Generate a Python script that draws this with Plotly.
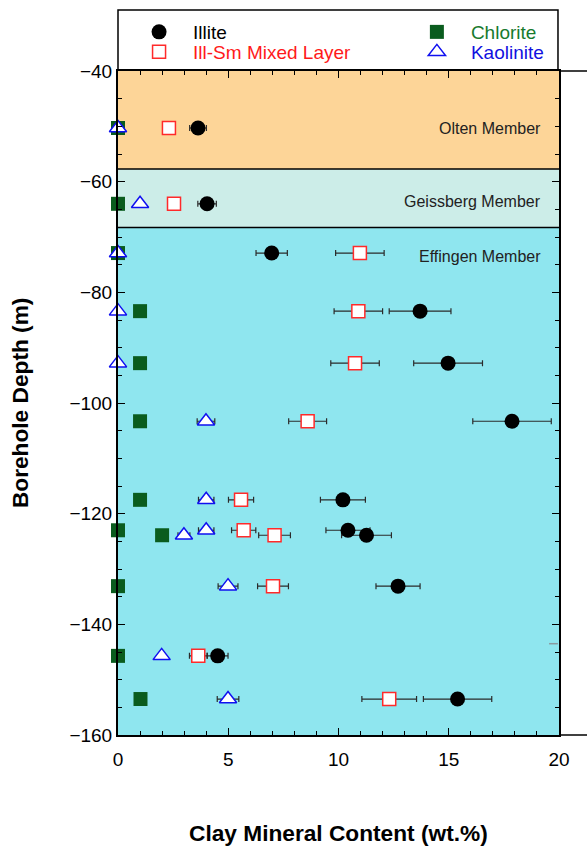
import plotly.graph_objects as go

# Sample depths (m, negative downwards) and clay mineral contents (wt.%)
depth_m = [-50.3, -64.0, -72.9, -83.4, -92.8, -103.3, -117.5, -123.0, -123.9, -133.1, -145.7, -153.5]

illite = [3.63, 4.04, 6.97, 13.7, 14.97, 17.87, 10.2, 10.43, 11.27, 12.7, 4.52, 15.4]
illite_err = [0.38, 0.42, 0.71, 1.4, 1.56, 1.78, 1.02, 1.0, 1.13, 1.0, 0.47, 1.55]

illsm = [2.31, 2.54, 10.97, 10.9, 10.75, 8.6, 5.58, 5.7, 7.1, 7.03, 3.64, 12.3]
illsm_err = [0.0, 0.0, 1.1, 1.1, 1.1, 0.86, 0.57, 0.55, 0.72, 0.7, 0.4, 1.24]

chlorite = [0.0, 0.0, 0.0, 1.0, 1.0, 1.0, 1.0, 0.0, 2.0, 0.0, 0.0, 1.02]

kaolinite = [0.0, 1.0, 0.0, 0.0, 0.0, 3.99, 4.0, 4.0, 2.99, 4.99, 1.98, 4.99]
kaolinite_err = [0.0, 0.0, 0.0, 0.0, 0.0, 0.4, 0.35, 0.35, 0.27, 0.45, 0.0, 0.49]

# Lithostratigraphic members
members = ["Olten Member", "Geissberg Member", "Effingen Member"]
member_top = [-40.0, -57.7, -68.3]
member_base = [-57.7, -68.3, -160.0]
member_fill = ["#fdd598", "#ccede8", "#8fe6ef"]
member_label_depth = [-50.4, -63.6, -73.6]

x_ticks = [0, 5, 10, 15, 20]
y_ticks = [-40, -60, -80, -100, -120, -140, -160]

FONT = "Arial, Liberation Sans, sans-serif"
GREEN = "#0a5c1e"
ERR = dict(type="data", thickness=1.2, width=3, color="#2b2b2b")

fig = go.Figure()

fig.add_trace(go.Scatter(
    x=chlorite, y=depth_m, mode="markers", name="<span style='color:#187a2e'>Chlorite</span>",
    legend="legend3",
    marker=dict(symbol="square", size=14, color=GREEN, line=dict(width=0)),
    cliponaxis=False,
))
fig.add_trace(go.Scatter(
    x=kaolinite, y=depth_m, mode="markers", name="<span style='color:#1010e0'>Kaolinite</span>",
    legend="legend4",
    error_x=dict(array=kaolinite_err, **ERR),
    marker=dict(symbol="triangle-up", size=15, color="white", line=dict(width=1.5, color="#1010f0")),
    cliponaxis=False,
))
fig.add_trace(go.Scatter(
    x=illsm, y=depth_m, mode="markers", name="<span style='color:#ff1a1a'>Ill-Sm Mixed Layer</span>",
    legend="legend2",
    error_x=dict(array=illsm_err, **ERR),
    marker=dict(symbol="square", size=13, color="white", line=dict(width=1.5, color="#ff2a2a")),
    cliponaxis=False,
))
fig.add_trace(go.Scatter(
    x=illite, y=depth_m, mode="markers", name="Illite",
    legend="legend",
    error_x=dict(array=illite_err, **ERR),
    marker=dict(symbol="circle", size=15, color="black", line=dict(width=0)),
    cliponaxis=False,
))

# Member shading and boundaries
shapes = []
for top, base, fill in zip(member_top, member_base, member_fill):
    shapes.append(dict(type="rect", xref="x", yref="y", x0=0, x1=20, y0=base, y1=top,
                       fillcolor=fill, line=dict(width=0), layer="below"))
for b in member_base[:-1]:
    shapes.append(dict(type="line", xref="x", yref="y", x0=0, x1=20, y0=b, y1=b,
                       line=dict(color="black", width=1.5), layer="below"))

# Legend frame above the plot and the frame lines running to the page edge
shapes.append(dict(type="rect", xref="paper", yref="paper", x0=0, x1=0.9977, y0=1.0, y1=1.0919,
                   line=dict(color="black", width=1.5), fillcolor="white", layer="below"))
shapes.append(dict(type="line", xref="paper", yref="paper", x0=1, x1=1.07, y0=1, y1=1,
                   line=dict(color="black", width=1.5)))
shapes.append(dict(type="line", xref="paper", yref="paper", x0=1, x1=1.07, y0=0, y1=0,
                   line=dict(color="black", width=1.5)))
shapes.append(dict(type="line", xref="x", yref="y", x0=19.55, x1=19.95, y0=-143.5, y1=-143.5,
                   line=dict(color="#8a9aa0", width=1.5)))

annotations = []
for name, d in zip(members, member_label_depth):
    annotations.append(dict(x=19.28, y=d, xref="x", yref="y", text=name, showarrow=False,
                            xanchor="right", yanchor="middle",
                            font=dict(family=FONT, size=16, color="#222222")))
annotations.append(dict(x=0.5, y=-0.1476, xref="paper", yref="paper",
                        text="<b>Clay Mineral Content (wt.%)</b>", showarrow=False,
                        xanchor="center", yanchor="middle",
                        font=dict(family=FONT, size=22.7, color="black")))
annotations.append(dict(x=-0.222, y=0.5, xref="paper", yref="paper",
                        text="<b>Borehole Depth (m)</b>", showarrow=False, textangle=-90,
                        xanchor="center", yanchor="middle",
                        font=dict(family=FONT, size=22.7, color="black")))

def legend_box(x, y):
    return dict(x=x, y=y, orientation="v", bgcolor="rgba(0,0,0,0)", borderwidth=0,
                font=dict(family=FONT, size=19, color="black"), itemwidth=58,
                xanchor="left", yanchor="middle", tracegroupgap=0, itemsizing="trace")

fig.update_layout(
    width=587, height=848,
    margin=dict(l=118, r=28, t=71, b=113),
    paper_bgcolor="white", plot_bgcolor="white",
    font=dict(family=FONT, size=19, color="black"),
    showlegend=True,
    legend=legend_box(0.016, 1.0587),
    legend2=legend_box(0.016, 1.0286),
    legend3=legend_box(0.646, 1.0587),
    legend4=legend_box(0.646, 1.0286),
    shapes=shapes,
    annotations=annotations,
    xaxis=dict(range=[0, 20], tickvals=x_ticks, ticks="inside", ticklen=7, tickwidth=1.2,
               tickcolor="black", showline=True, linewidth=2, linecolor="black", mirror="ticks",
               showgrid=False, zeroline=False, tickfont=dict(family=FONT, size=19),
               ticklabelstandoff=6,
               minor=dict(dtick=1, ticks="inside", ticklen=4, tickwidth=1, tickcolor="black")),
    yaxis=dict(range=[-160, -40], tickvals=y_ticks, ticks="inside", ticklen=7, tickwidth=1.2,
               tickcolor="black", showline=True, linewidth=2, linecolor="black", mirror="ticks",
               showgrid=False, zeroline=False, tickfont=dict(family=FONT, size=19),
               minor=dict(dtick=5, ticks="inside", ticklen=4, tickwidth=1, tickcolor="black")),
)

fig.write_html("out.html")
